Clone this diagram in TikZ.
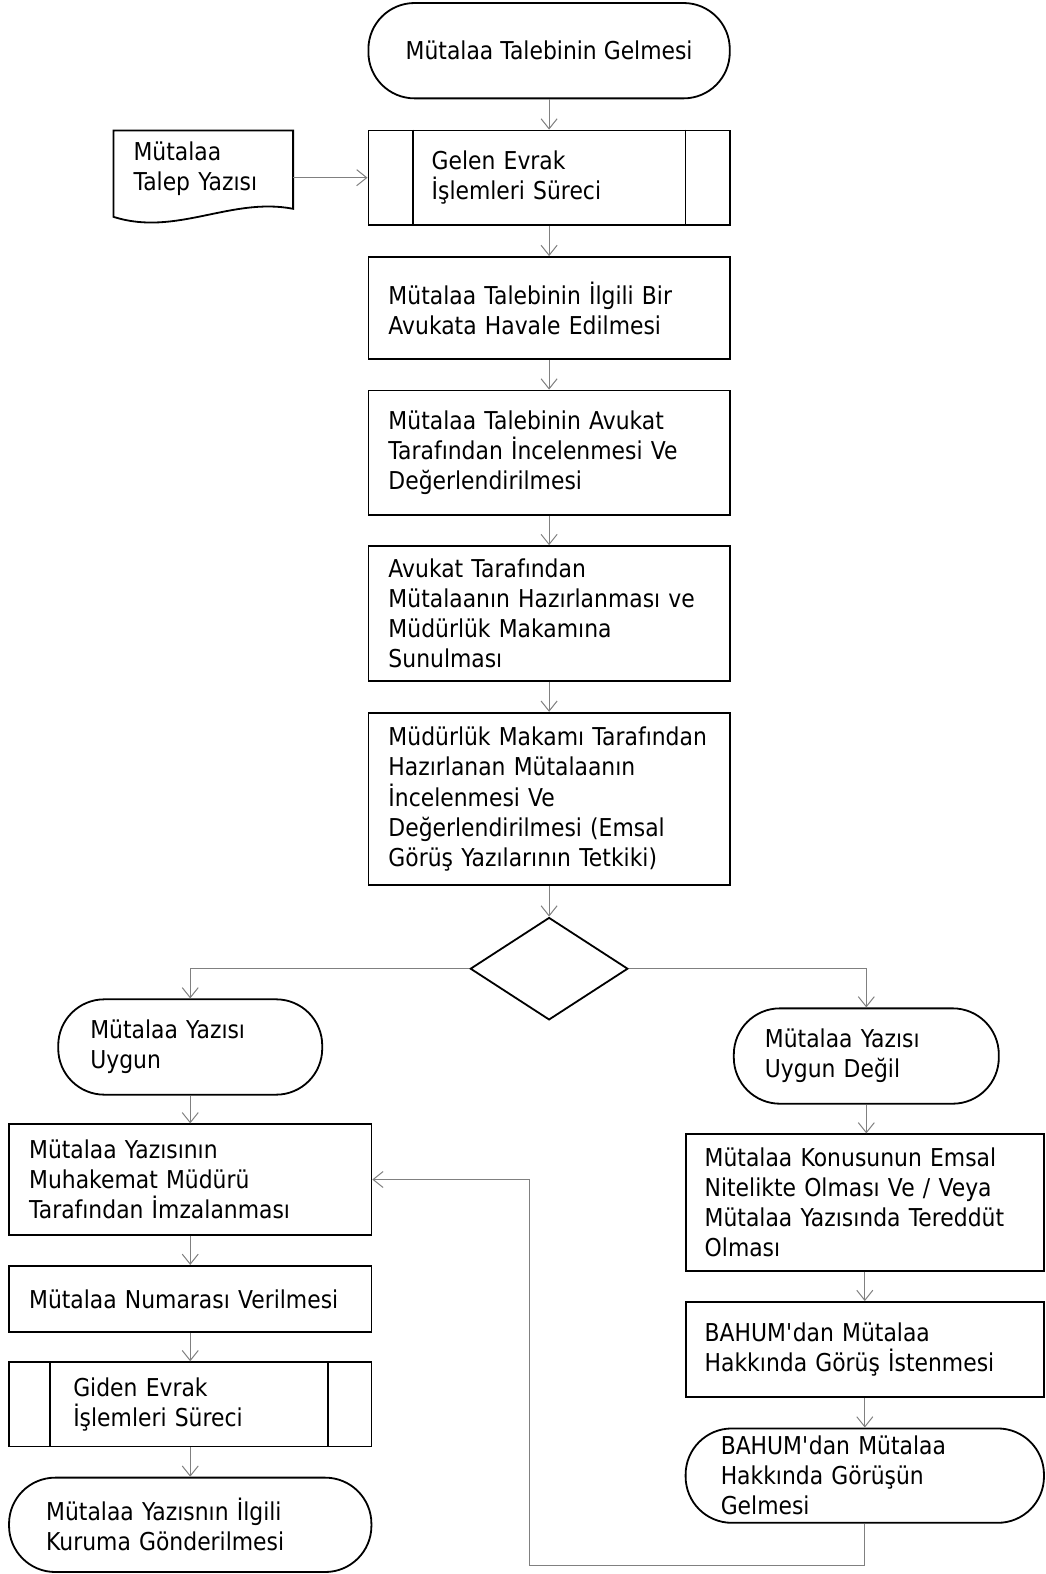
\documentclass[tikz,border=0pt]{standalone}
\usepackage{fontspec}
\setmainfont{DejaVu Sans}[FakeStretch=0.89]
\usetikzlibrary{arrows.meta,shapes.geometric}
\newcommand\fsz{\fontsize{24.5}{30}\selectfont}
\begin{document}
\begin{tikzpicture}[x=1pt,y=-1pt,
  every node/.style={font=\fsz},
  box/.style={draw=black, line width=1.8pt, rectangle, inner ysep=0pt, align=left},
  term/.style={box, rounded corners=46pt},
  conn/.style={draw=black!50, line width=1pt, -{Straight Barb[length=10pt,width=16pt,line width=1pt]}},
  sline/.style={draw=black, line width=1.8pt}
]
\useasboundingbox (0,0) rectangle (1042,1568);

% top column
\node[term, minimum width=360pt, minimum height=95pt, align=center] (start) at (547,50.5) {Mütalaa Talebinin Gelmesi};

\draw[sline] (113,130) -- (292,130) -- (292,208) .. controls (230,196) and (175,236) .. (113,216) -- cycle;
\node[inner sep=0pt, minimum width=179pt, minimum height=77pt, text width=139pt, inner xsep=20pt, align=left] (doc) at (202.5,168.5) {\mbox{Mütalaa}\\\mbox{Talep Yazısı}};

\node[box, minimum width=360pt, minimum height=94pt, text width=234pt, inner xsep=63pt] (sub) at (547,177) {\mbox{Gelen Evrak}\\\mbox{İşlemleri Süreci}};
\draw[sline] ([xshift=45pt]sub.north west) -- ([xshift=45pt]sub.south west);
\draw[sline] ([xshift=-45pt]sub.north east) -- ([xshift=-45pt]sub.south east);

\node[box, minimum width=360pt, minimum height=102pt, text width=320pt, inner xsep=20pt] (p1) at (547,307) {\mbox{Mütalaa Talebinin İlgili Bir}\\\mbox{Avukata Havale Edilmesi}};
\node[box, minimum width=360pt, minimum height=124pt, text width=320pt, inner xsep=20pt] (p2) at (547,451) {\mbox{Mütalaa Talebinin Avukat}\\\mbox{Tarafından İncelenmesi Ve}\\\mbox{Değerlendirilmesi}};
\node[box, minimum width=360pt, minimum height=134pt, text width=320pt, inner xsep=20pt] (p3) at (547,611) {\mbox{Avukat Tarafından}\\\mbox{Mütalaanın Hazırlanması ve}\\\mbox{Müdürlük Makamına}\\\mbox{Sunulması}};
\node[box, minimum width=360pt, minimum height=172pt, text width=320pt, inner xsep=20pt] (p4) at (547,796) {\mbox{Müdürlük Makamı Tarafından}\\\mbox{Hazırlanan Mütalaanın}\\\mbox{İncelenmesi Ve}\\\mbox{Değerlendirilmesi (Emsal}\\\mbox{Görüş Yazılarının Tetkiki)}};

\node[draw=black, diamond, line width=1.8pt, minimum width=157pt, minimum height=102pt, inner sep=0pt] (dia) at (547,965) {};

% left column
\node[term, minimum width=263pt, minimum height=95pt, text width=199pt, inner xsep=32pt] (l1) at (189.5,1043) {\mbox{Mütalaa Yazısı}\\\mbox{Uygun}};
\node[box, minimum width=361pt, minimum height=110pt, text width=321pt, inner xsep=20pt] (l2) at (189.5,1175) {\mbox{Mütalaa Yazısının}\\\mbox{Muhakemat Müdürü}\\\mbox{Tarafından İmzalanması}};
\node[box, minimum width=361pt, minimum height=66pt, text width=321pt, inner xsep=20pt] (l3) at (189.5,1294) {\mbox{Mütalaa Numarası Verilmesi}};
\node[box, minimum width=361pt, minimum height=84pt, text width=233pt, inner xsep=64pt] (l4) at (189.5,1399) {\mbox{Giden Evrak}\\\mbox{İşlemleri Süreci}};
\draw[sline] ([xshift=42pt]l4.north west) -- ([xshift=42pt]l4.south west);
\draw[sline] ([xshift=-44pt]l4.north east) -- ([xshift=-44pt]l4.south east);
\node[term, minimum width=361pt, minimum height=94pt, text width=287pt, inner xsep=37pt] (l5) at (189.5,1519) {\mbox{Mütalaa Yazısnın İlgili}\\\mbox{Kuruma Gönderilmesi}};

% right column
\node[term, minimum width=264pt, minimum height=95pt, text width=202pt, inner xsep=31pt] (r1) at (863,1052) {\mbox{Mütalaa Yazısı}\\\mbox{Uygun Değil}};
\node[box, minimum width=357pt, minimum height=136pt, text width=319pt, inner xsep=19pt] (r2) at (861.5,1198) {\mbox{Mütalaa Konusunun Emsal}\\\mbox{Nitelikte Olması Ve / Veya}\\\mbox{Mütalaa Yazısında Tereddüt}\\\mbox{Olması}};
\node[box, minimum width=357pt, minimum height=95pt, text width=319pt, inner xsep=19pt] (r3) at (861.5,1344.5) {\mbox{BAHUM\textquotesingle dan Mütalaa}\\\mbox{Hakkında Görüş İstenmesi}};
\node[term, minimum width=357pt, minimum height=94pt, text width=287pt, inner xsep=35pt] (r4) at (861.5,1470) {\mbox{BAHUM\textquotesingle dan Mütalaa}\\\mbox{Hakkında Görüşün}\\\mbox{Gelmesi}};

\coordinate (loop) at (527,1560);

% connectors
\draw[conn] (start) -- (sub);
\draw[conn] (doc.east |- sub.west) -- (sub.west);
\draw[conn] (sub) -- (p1);
\draw[conn] (p1) -- (p2);
\draw[conn] (p2) -- (p3);
\draw[conn] (p3) -- (p4);
\draw[conn] (p4) -- (dia);
\draw[conn] (dia.west) -| (l1.north);
\draw[conn] (dia.east) -| (r1.north);
\draw[conn] (l1) -- (l2);
\draw[conn] (l2) -- (l3);
\draw[conn] (l3) -- (l4);
\draw[conn] (l4) -- (l5);
\draw[conn] (r1.south) -- (r1.south |- r2.north);
\draw[conn] (r2) -- (r3);
\draw[conn] (r3) -- (r4);
\draw[conn] (r4.south) |- (loop) |- (l2.east);
\end{tikzpicture}
\end{document}
